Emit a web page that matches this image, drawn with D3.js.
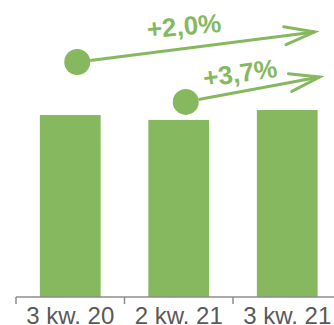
<!DOCTYPE html>
<html>
<head>
<meta charset="utf-8">
<script src="https://cdn.jsdelivr.net/npm/d3@7"></script>
<style>
  body { margin: 0; background: #fff; }
  svg { display: block; }
</style>
</head>
<body>
<div id="chart"></div>
<script>
// data
var categories = ["3 kw. 20", "2 kw. 21", "3 kw. 21"];
var values = [97.3, 94.7, 100];
var changeLabels = ["+2,0%", "+3,7%"];
var changeFrom = ["3 kw. 20", "2 kw. 21"];

var green = "#85b85f";
var W = 334, H = 325;

var svg = d3.select("#chart").append("svg")
        .attr("width", W)
        .attr("height", H);

var x = d3.scaleBand()
        .domain(categories)
        .range([16, 341.5])
        .paddingInner(0.44)
        .paddingOuter(0.22);

var y = d3.scaleLinear()
        .domain([0, 100])
        .range([297, 110]);

// bars
svg.selectAll(".bar")
        .data(categories)
        .enter().append("rect")
        .attr("class", "bar")
        .attr("x", function (d) { return x(d); })
        .attr("y", function (d, i) { return y(values[i]); })
        .attr("width", x.bandwidth())
        .attr("height", function (d, i) { return y(0) - y(values[i]); })
        .attr("fill", green);

// axis: labels from axisBottom, tick marks between categories
var axis = svg.append("g")
        .attr("transform", "translate(0," + y(0) + ")")
        .call(d3.axisBottom(x).tickSize(0).tickPadding(10));
axis.select(".domain").remove();
axis.selectAll("text")
        .attr("font-family", "Liberation Sans, Arial, sans-serif")
        .attr("font-size", 24)
        .attr("fill", "#595959");

var step = x.step();
var bounds = d3.range(categories.length + 1).map(function (i) { return x.range()[0] + i * step; });
axis.append("line")
        .attr("x1", bounds[0]).attr("x2", bounds[bounds.length - 1])
        .attr("y1", 0).attr("y2", 0)
        .attr("stroke", "#8c8c8c").attr("stroke-width", 1.5);
axis.selectAll(".sep")
        .data(bounds)
        .enter().append("line")
        .attr("class", "sep")
        .attr("x1", function (d) { return d; }).attr("x2", function (d) { return d; })
        .attr("y1", 0).attr("y2", 7)
        .attr("stroke", "#8c8c8c").attr("stroke-width", 1.5);

// arrow marker
svg.append("defs").append("marker")
        .attr("id", "head")
        .attr("markerUnits", "userSpaceOnUse")
        .attr("viewBox", "-34 -14 38 28")
        .attr("markerWidth", 38)
        .attr("markerHeight", 28)
        .attr("refX", 0)
        .attr("refY", 0)
        .attr("orient", "auto")
        .append("path")
        .attr("d", "M-30,-9L0,0L-30,9")
        .attr("fill", "none")
        .attr("stroke", green)
        .attr("stroke-width", 3)
        .attr("stroke-linecap", "round");

// annotations: dot above bar, arrow to last bar
var last = categories[categories.length - 1];
var notes = [
    {from: changeFrom[0], label: changeLabels[0], dy: -53, tipDx: -3, tipDy: -78, lx: 184, ly: 26, rot: -5},
    {from: changeFrom[1], label: changeLabels[1], dy: -18, tipDx: 2, tipDy: -33, lx: 240, ly: 73, rot: -8}
];

notes.forEach(function (n) {
    var i = categories.indexOf(n.from);
    var cx = x(n.from) + x.bandwidth() / 2 + 7;
    var cy = y(values[i]) + n.dy;
    var tx = x(last) + x.bandwidth() + n.tipDx;
    var ty = y(values[categories.length - 1]) + n.tipDy;
    var ang = Math.atan2(ty - cy, tx - cx);
    svg.append("line")
            .attr("x1", cx + 13 * Math.cos(ang)).attr("y1", cy + 13 * Math.sin(ang))
            .attr("x2", tx).attr("y2", ty)
            .attr("stroke", green)
            .attr("stroke-width", 3)
            .attr("marker-end", "url(#head)");
    svg.append("circle")
            .attr("cx", cx).attr("cy", cy).attr("r", 13)
            .attr("fill", green);
    svg.append("text")
            .attr("transform", "translate(" + n.lx + "," + n.ly + ") rotate(" + n.rot + ")")
            .attr("text-anchor", "middle")
            .attr("dy", "0.35em")
            .attr("font-family", "Liberation Sans, Arial, sans-serif")
            .attr("font-weight", "bold")
            .attr("font-size", 26)
            .attr("fill", green)
            .text(n.label);
});
</script>
</body>
</html>
